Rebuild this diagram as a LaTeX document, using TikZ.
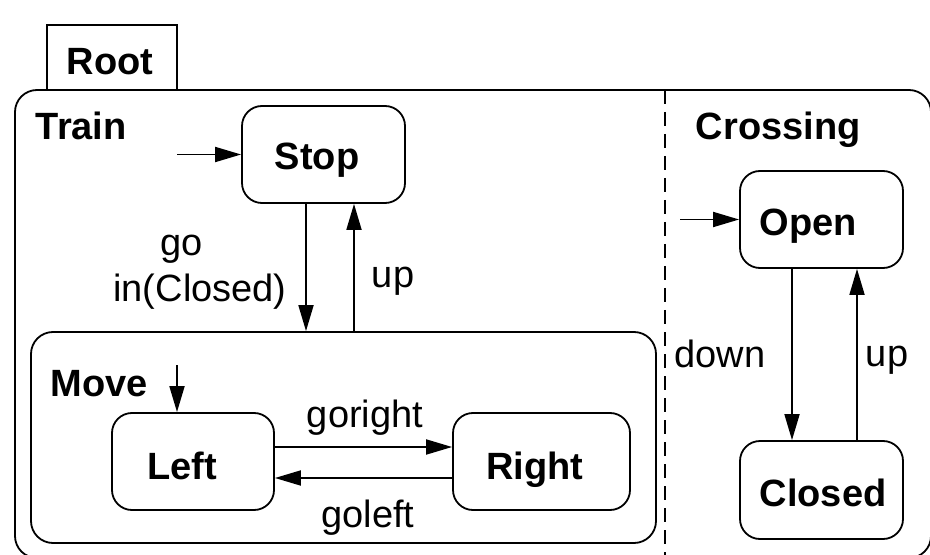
\documentclass[tikz,border=0pt]{standalone}
\usepackage{fontspec}
\setmainfont{Liberation Sans}
\usetikzlibrary{arrows.meta}
\begin{document}
\begin{tikzpicture}[x=0.5pt,y=-0.5pt,
  font=\fontsize{19pt}{22pt}\selectfont,
  line width=0.9pt,
  statebox/.style={draw,rounded corners=10pt,inner sep=0pt},
  statetxt/.style={inner sep=0pt,anchor=base,font=\fontsize{19pt}{22pt}\selectfont\bfseries},
  trans/.style={-{Triangle[length=13pt,width=7.5pt]}},
  lbl/.style={inner sep=0pt,anchor=base},
  ttl/.style={inner sep=0pt,anchor=base west,font=\fontsize{19pt}{22pt}\selectfont\bfseries}]
\useasboundingbox (0,0) rectangle (930,555);
\begin{scope}
\clip (0,0) rectangle (930,555);
% outer Root region and its tab
\draw (47,90) -- (47,25) -- (177,25) -- (177,90);
\draw[rounded corners=11pt] (15,90) rectangle (931,558);
% concurrency separator
\draw[dash pattern=on 7pt off 4pt] (665,90) -- (665,560);
\end{scope}
\node[ttl] (root) at (66,75) {Root};
\node[ttl] (train) at (35,140) {Train};
\node[ttl] (crossing) at (695,140) {Crossing};

% Train states
\node[statebox,minimum width=81.5pt,minimum height=48.5pt] (stop) at (323.5,154.5) {};
\node[statetxt] (stoptxt) at (317,170) {Stop};
\node[draw,rounded corners=11pt,minimum width=312.5pt,minimum height=105.5pt] (move) at (343.5,437.5) {};
\node[ttl] (movelbl) at (50,396) {Move};
\node[statebox,minimum width=81pt,minimum height=48.5pt] (left) at (193,461.5) {};
\node[statetxt] (lefttxt) at (182,479) {Left};
\node[statebox,minimum width=88.5pt,minimum height=48.5pt] (right) at (541.5,461.5) {};
\node[statetxt] (righttxt) at (535,479) {Right};

% Crossing states
\node[statebox,minimum width=81.5pt,minimum height=48.5pt] (open) at (821.5,219.5) {};
\node[statetxt] (opentxt) at (808,236) {Open};
\node[statebox,minimum width=81.5pt,minimum height=49pt] (closed) at (821.5,490) {};
\node[statetxt] (closedtxt) at (823,506) {Closed};

% initial transitions
\coordinate (i1) at (177,154.5);
\coordinate (i2) at (177,365);
\coordinate (i3) at (680,219.5);
\draw[trans] (i1) -- (stop.west);
\draw[trans] (i2) -- (left.north -| i2);
\draw[trans] (i3) -- (open.west);

% transitions
\draw[trans] (stop.south -| 306,0) -- (move.north -| 306,0);
\draw[trans] (move.north -| 354,0) -- (stop.south -| 354,0);
\draw[trans] (left.east |- 0,447) -- (right.west |- 0,447);
\draw[trans] (right.west |- 0,478) -- (left.east |- 0,478);
\draw[trans] (open.south -| 792,0) -- (closed.north -| 792,0);
\draw[trans] (closed.north -| 857,0) -- (open.south -| 857,0);

% labels
\node[lbl] (lgo) at (182,256) {go};
\node[lbl] (lin) at (200,301) {in(Closed)};
\node[lbl] (lup1) at (393,288) {up};
\node[lbl] (lgr) at (365,427) {goright};
\node[lbl] (lgl) at (368,527) {goleft};
\node[lbl] (ldown) at (720,367) {down};
\node[lbl] (lup2) at (887,366) {up};
\end{tikzpicture}
\end{document}
